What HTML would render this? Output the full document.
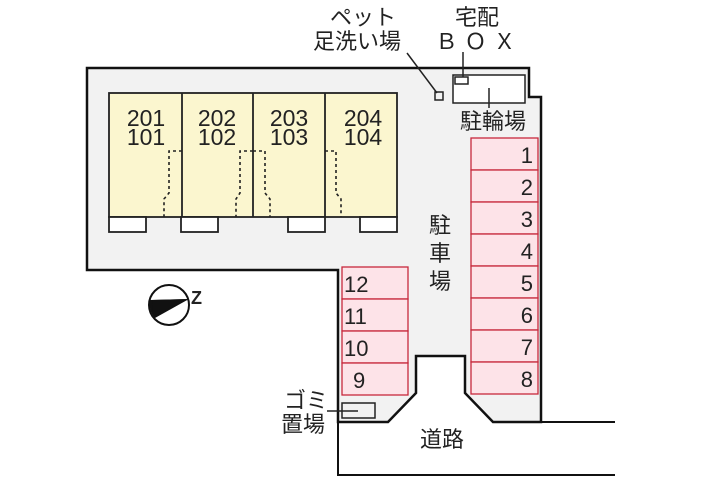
<!DOCTYPE html>
<html><head><meta charset="utf-8"><style>
body{margin:0;background:#fff}
svg{display:block}
text{font-family:"Liberation Sans","Noto Sans CJK JP",sans-serif;fill:#222}
</style></head><body>
<svg width="720" height="480" viewBox="0 0 720 480">
<path d="M87,68 H529 V97 H541 V422 H493 L465,393 V356 H416 V393 L388,422 H338 V270 H87 Z" fill="#f2f2f2" stroke="#111" stroke-width="2.5"/>
<line x1="541" y1="422" x2="615" y2="422" stroke="#111" stroke-width="2"/>
<polyline points="338,422 338,475 615,475" fill="none" stroke="#111" stroke-width="2"/>
<g stroke="#222" stroke-width="1.8">
<rect x="109" y="93" width="288" height="124" fill="#fbf6cf"/>
<line x1="182" y1="93" x2="182" y2="217"/>
<line x1="253" y1="93" x2="253" y2="217"/>
<line x1="325" y1="93" x2="325" y2="217"/>
<g fill="#fff">
<rect x="109" y="217" width="37" height="15"/>
<rect x="181" y="217" width="37" height="15"/>
<rect x="288" y="217" width="37" height="15"/>
<rect x="360" y="217" width="37" height="15"/>
</g>
</g>
<g fill="none" stroke="#222" stroke-width="1.6" stroke-dasharray="3,3">
<polyline points="182,151 169,151 169,193 164,199 164,217"/>
<polyline points="253,151 240,151 240,193 236,199 236,217"/>
<polyline points="253,151 265,151 265,193 270,199 270,217"/>
<polyline points="325,151 336,151 336,193 341,199 341,217"/>
</g>
<g font-size="23" text-anchor="middle">
<text x="146" y="126">201</text><text x="146" y="145">101</text>
<text x="217" y="126">202</text><text x="217" y="145">102</text>
<text x="289" y="126">203</text><text x="289" y="145">103</text>
<text x="363" y="126">204</text><text x="363" y="145">104</text>
</g>
<g fill="#fde3e8" stroke="#c8283c" stroke-width="1.3">
<rect x="471" y="138" width="67" height="32"/><rect x="471" y="170" width="67" height="32"/>
<rect x="471" y="202" width="67" height="32"/><rect x="471" y="234" width="67" height="32"/>
<rect x="471" y="266" width="67" height="32"/><rect x="471" y="298" width="67" height="32"/>
<rect x="471" y="330" width="67" height="32"/><rect x="471" y="362" width="67" height="32"/>
<rect x="342" y="267" width="66" height="32"/><rect x="342" y="299" width="66" height="32"/>
<rect x="342" y="331" width="66" height="32"/><rect x="342" y="363" width="66" height="32"/>
</g>
<g font-size="22" text-anchor="end">
<text x="533" y="163">1</text><text x="533" y="195">2</text><text x="533" y="227">3</text><text x="533" y="259">4</text>
<text x="533" y="291">5</text><text x="533" y="323">6</text><text x="533" y="355">7</text><text x="533" y="387">8</text>
</g>
<g font-size="22">
<text x="344" y="292">12</text><text x="344" y="324">11</text><text x="344" y="356">10</text><text x="353" y="388">9</text>
</g>
<g font-size="22" text-anchor="middle">
<text x="440" y="233">駐</text><text x="440" y="261">車</text><text x="440" y="289">場</text>
<text x="442" y="447">道路</text>
<text x="493" y="129">駐輪場</text>
<text x="477" y="25">宅配</text>
<text x="479" y="49" letter-spacing="7">ＢＯＸ</text>
<text x="363" y="25">ペット</text>
<text x="357" y="49">足洗い場</text>
<text x="306" y="408">ゴミ</text>
<text x="303" y="432">置場</text>
</g>
<g fill="none" stroke="#222" stroke-width="1.5">
<rect x="453" y="75" width="72" height="28" fill="#fff"/>
<rect x="455" y="77" width="13" height="7"/>
<line x1="463" y1="52" x2="463" y2="77"/>
<line x1="489" y1="88" x2="489" y2="108"/>
<rect x="435" y="92" width="8" height="8"/>
<line x1="407" y1="53" x2="437" y2="93"/>
<rect x="342" y="403" width="33" height="15"/>
<line x1="327" y1="411" x2="358" y2="411"/>
</g>
<circle cx="169" cy="305" r="20" fill="#fff" stroke="#111" stroke-width="2"/>
<path d="M150,300 L189,299 L155,318 A20,20 0 0 1 150,300 Z" fill="#111"/>
<path d="M152,300 L189,299 L153,316 Z" fill="#111"/>
<text x="191" y="304" font-size="18" font-weight="bold">Z</text>
</svg>
</body></html>
